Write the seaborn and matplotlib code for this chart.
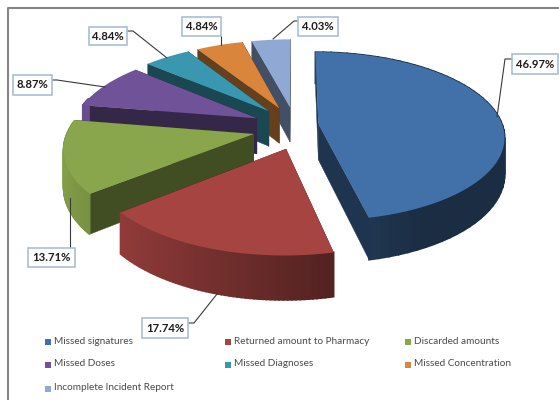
import numpy as np
import seaborn as sns
import matplotlib
matplotlib.use("Agg")
import matplotlib.pyplot as plt
from matplotlib.patches import Rectangle
from matplotlib.colors import to_rgb

categories = ["Missed signatures", "Returned amount to Pharmacy", "Discarded amounts",
              "Missed Doses", "Missed Diagnoses", "Missed Concentration",
              "Incomplete Incident Report"]
percent = [46.97, 17.74, 13.71, 8.87, 4.84, 4.84, 4.03]
explode = [0.128, 0.283, 0.245, 0.225, 0.225, 0.225, 0.225]
explode_turn = [0, -9.5, -11, -4, 0, 0, 0]
slice_colors = ["#4270A8", "#A64442", "#8AA64C", "#6F5297", "#3A97B0", "#D9853C", "#8FA9D4"]

sns.set_theme(style="white")
plt.rcParams["font.family"] = ["Lato", "DejaVu Sans"]

# Projected disc: perspective divides by a depth term that grows towards the back
CX, CY, RX, RY, PERSP, DEPTH = 295.0, 125.0, 184.0, 82.7, 0.148, 36.0
START = 0.0


def project(u, v, drop=0.0):
    w = 1 + PERSP * v
    return CX + RX * u / w, CY - RY * v / w + drop / w


def shaded(color, f):
    return tuple(min(1, c * f) for c in to_rgb(color))


fig = plt.figure(figsize=(5.59, 4.0), dpi=100)
ax = fig.add_axes([0, 0, 1, 1])
ax.set_xlim(0, 559)
ax.set_ylim(400, 0)
ax.axis("off")

palette = sns.color_palette(slice_colors)
total = sum(percent)
sweeps = np.array(percent) / total * 360
ends = np.cumsum(sweeps) + START
starts = ends - sweeps

# Painter's order: back slices first, the front slices overlap them
for i in [6, 5, 4, 3, 2, 1, 0]:
    a0, a1 = np.radians(starts[i]), np.radians(ends[i])
    mid = (a0 + a1) / 2 + np.radians(explode_turn[i])
    u0, v0 = explode[i] * np.sin(mid), explode[i] * np.cos(mid)
    th = np.linspace(a0, a1, 60)
    us, vs = u0 + np.sin(th), v0 + np.cos(th)
    col = palette[i]

    for uc, vc in [(us[0], vs[0]), (us[-1], vs[-1])]:
        t = np.array([project(u0, v0), project(uc, vc), project(uc, vc, DEPTH), project(u0, v0, DEPTH)])
        ax.fill(t[:, 0], t[:, 1], color=shaded(col, 0.47), lw=0.3)

    for j in range(len(th) - 1):
        if np.cos(th[j]) > 0.25 and np.sin(th[j]) < 0:
            continue
        f = np.clip(0.58 - 0.38 * np.sin(th[j]), 0.4, 0.95)
        q = np.array([project(us[j], vs[j]), project(us[j + 1], vs[j + 1]),
                      project(us[j + 1], vs[j + 1], DEPTH), project(us[j], vs[j], DEPTH)])
        ax.fill(q[:, 0], q[:, 1], color=shaded(col, f), lw=1.2)

    top = np.array([project(u0, v0)] + [project(a, b) for a, b in zip(us, vs)])
    ax.fill(top[:, 0], top[:, 1], color=col, lw=0)

# Chart frame, open at the right and bottom
ax.plot([7.5, 7.5, 559], [400, 7.5, 7.5], color="#858585", lw=1.5, solid_capstyle="butt")

# Data callouts
boxes = [(512, 54, 46, 20), (142, 318, 46, 20), (28, 248, 47, 19), (13, 75, 39, 20),
         (89, 27, 38, 18), (182, 17, 39, 19), (298, 17, 40, 19)]
leaders = [[(512, 59), (505, 59), (497, 117)], [(188, 323), (194, 323), (217, 294)],
           [(70, 248), (70, 198)], [(52, 80), (57, 80), (105, 87)],
           [(127, 31), (133, 31), (167, 58)], [(221, 36), (221, 45)],
           [(298, 21), (294, 21), (273, 39)]]
for p, (x, y, w, h), path in zip(percent, boxes, leaders):
    xs, ys = zip(*path)
    ax.plot(xs, ys, color="#3a3a3a", lw=0.8)
    ax.add_patch(Rectangle((x, y), w, h, fc="white", ec="#A9BFD6", lw=1.2, zorder=4))
    ax.text(x + w / 2, y + h / 2, f"{p:.2f}%", ha="center", va="center", fontsize=8.2,
            fontweight="bold", color="#1c1c1c", zorder=5)

# Legend laid out in three fixed columns
columns, rows = [45, 225, 405], [341, 364, 388]
for i, name in enumerate(categories):
    x, y = columns[i % 3], rows[i // 3]
    ax.add_patch(Rectangle((x, y - 2.5), 6, 6, fc=palette[i], ec="none"))
    ax.text(x + 9, y, name, ha="left", va="center", fontsize=7.2, color="#4a4a4a")

fig.savefig("out.png", dpi=100)
